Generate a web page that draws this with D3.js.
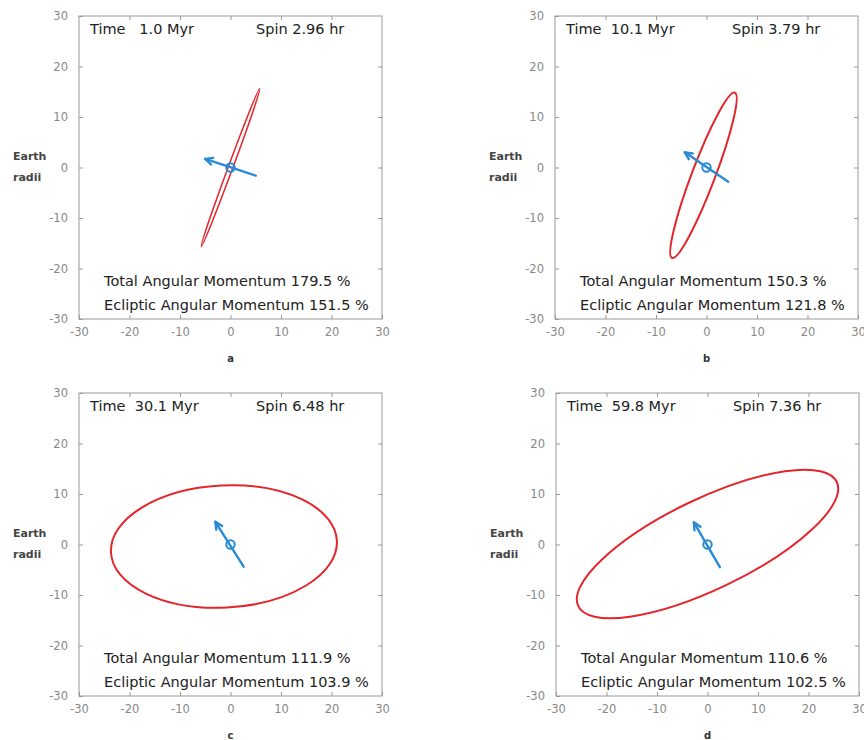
<!DOCTYPE html>
<html>
<head>
<meta charset="utf-8">
<script src="https://cdn.jsdelivr.net/npm/d3@7"></script>
<style>
  html, body { margin: 0; padding: 0; background: #fff; }
  svg { display: block; }
  text { font-family: "DejaVu Sans", sans-serif; }
</style>
</head>
<body>
<svg id="chart" width="864" height="740"></svg>
<script>
// ---- data ----
const panelLetters = ["a", "b", "c", "d"];
const timeLabels   = ["Time   1.0 Myr", "Time  10.1 Myr", "Time  30.1 Myr", "Time  59.8 Myr"];
const spinHours    = [2.96, 3.79, 6.48, 7.36];
const totalAM      = [179.5, 150.3, 111.9, 110.6];
const eclipticAM   = [151.5, 121.8, 103.9, 102.5];

// orbit ellipses (Earth radii): centre, semi-axes, tilt (deg, counter-clockwise)
const orbitCx   = [0, -0.6, -1.3, 0];
const orbitCy   = [0, -1.55, -0.4, 0.1];
const orbitA    = [16.7, 17.5, 22.4, 28.4];
const orbitB    = [0.45, 2.3, 12.1, 8.95];
const orbitTilt = [69.7, 69.2, 3, 25.7];

// spin-axis arrow (Earth radii): tail and tip
const spinTailX = [5.0, 4.3, 2.6, 2.45];
const spinTailY = [-1.6, -2.8, -4.4, -4.5];
const spinTipX  = [-5.0, -4.3, -3.0, -2.7];
const spinTipY  = [1.7, 3.0, 4.5, 4.4];

const axisTicks = [-30, -20, -10, 0, 10, 20, 30];
const innerTicks = [-20, -10, 0, 10, 20];

// ---- layout ----
const panelLeft = [79, 555, 79, 556];
const panelTop  = [16, 16, 393, 393];
const size = 303;

const svg = d3.select("#chart");
const red = "#e4252b";
const blue = "#2a8bd4";

panelLetters.forEach((letter, i) => {
  const g = svg.append("g").attr("transform", `translate(${panelLeft[i]},${panelTop[i]})`);
  const x = d3.scaleLinear().domain([-30, 30]).range([0, size]);
  const y = d3.scaleLinear().domain([-30, 30]).range([size, 0]);

  // axes with labels (inward ticks)
  const fmt = d => String(d);
  const left = g.append("g")
    .call(d3.axisLeft(y).tickValues(axisTicks).tickSize(-4).tickPadding(11).tickFormat(fmt));
  const bottom = g.append("g").attr("transform", `translate(0,${size})`)
    .call(d3.axisBottom(x).tickValues(axisTicks).tickSize(-4).tickPadding(9).tickFormat(fmt));
  const top = g.append("g")
    .call(d3.axisTop(x).tickValues(innerTicks).tickSize(-4).tickFormat(""));
  const right = g.append("g").attr("transform", `translate(${size},0)`)
    .call(d3.axisRight(y).tickValues(innerTicks).tickSize(-4).tickFormat(""));
  [left, bottom, top, right].forEach(a => {
    a.select(".domain").remove();
    a.selectAll(".tick line").attr("stroke", "#999");
    a.selectAll(".tick text").attr("fill", "#888").style("font-size", "11.5px")
      .style("font-family", "DejaVu Sans, sans-serif");
  });

  // frame
  g.append("rect").attr("x", 0).attr("y", 0).attr("width", size).attr("height", size)
    .attr("fill", "none").attr("stroke", "#999").attr("stroke-width", 1);

  // orbit ellipse
  const cx = x(orbitCx[i]), cy = y(orbitCy[i]);
  g.append("ellipse")
    .attr("cx", cx).attr("cy", cy)
    .attr("rx", x(orbitA[i]) - x(0))
    .attr("ry", y(0) - y(orbitB[i]))
    .attr("transform", `rotate(${-orbitTilt[i]},${cx},${cy})`)
    .attr("fill", "none").attr("stroke", red).attr("stroke-width", i === 0 ? 1.5 : 2);

  // spin arrow
  const x1 = x(spinTailX[i]), y1 = y(spinTailY[i]);
  const x2 = x(spinTipX[i]),  y2 = y(spinTipY[i]);
  g.append("line").attr("x1", x1).attr("y1", y1).attr("x2", x2).attr("y2", y2)
    .attr("stroke", blue).attr("stroke-width", 2.4).attr("stroke-linecap", "round");
  const ang = Math.atan2(y2 - y1, x2 - x1);
  const hl = 8, ha = 0.45;
  const head = [
    [x2 - hl * Math.cos(ang - ha), y2 - hl * Math.sin(ang - ha)],
    [x2, y2],
    [x2 - hl * Math.cos(ang + ha), y2 - hl * Math.sin(ang + ha)]
  ];
  g.append("path").attr("d", d3.line()(head))
    .attr("fill", "none").attr("stroke", blue).attr("stroke-width", 2.4)
    .attr("stroke-linecap", "round").attr("stroke-linejoin", "round");
  g.append("circle").attr("cx", x(0)).attr("cy", y(0)).attr("r", 4.2)
    .attr("fill", "none").attr("stroke", blue).attr("stroke-width", 2);

  // texts
  const fs = "14.5px";
  g.append("text").attr("x", 11).attr("y", 18).attr("fill", "#222")
    .style("font-size", fs).style("white-space", "pre").text(timeLabels[i]);
  g.append("text").attr("x", 177).attr("y", 18).attr("fill", "#222")
    .style("font-size", fs).text(`Spin ${spinHours[i].toFixed(2)} hr`);
  g.append("text").attr("x", 25).attr("y", 270).attr("fill", "#222")
    .style("font-size", fs).text(`Total Angular Momentum ${totalAM[i].toFixed(1)} %`);
  g.append("text").attr("x", 25).attr("y", 294).attr("fill", "#222")
    .style("font-size", fs).text(`Ecliptic Angular Momentum ${eclipticAM[i].toFixed(1)} %`);

  // y label
  g.append("text").attr("x", -66).attr("y", size / 2 - 8).attr("fill", "#444")
    .style("font-size", "11px").style("font-weight", "bold").text("Earth");
  g.append("text").attr("x", -66).attr("y", size / 2 + 13).attr("fill", "#444")
    .style("font-size", "11px").style("font-weight", "bold").text("radii");

  // panel letter
  g.append("text").attr("x", size / 2).attr("y", size + 43).attr("text-anchor", "middle")
    .attr("fill", "#333").style("font-size", "10px").style("font-weight", "bold").text(letter);
});
</script>
</body>
</html>
